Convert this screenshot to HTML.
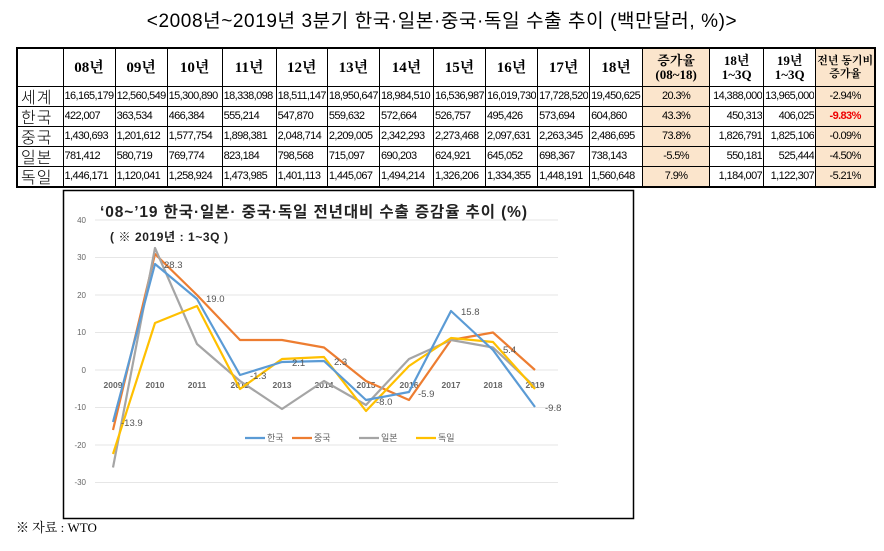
<!DOCTYPE html>
<html><head><meta charset="utf-8"><style>
body{margin:0;width:884px;height:551px;background:#fff;position:relative;overflow:hidden;font-family:"Liberation Serif","Noto Serif CJK SC",serif;}
.title{position:absolute;top:10px;left:0;width:884px;text-align:center;font-size:19px;line-height:24px;font-family:"Liberation Sans","Noto Sans CJK KR",sans-serif;letter-spacing:0.6px}
table{position:absolute;left:16px;top:47px;border-collapse:collapse;table-layout:fixed;border:2px solid #000}
td{border:1px solid #000;padding:0 1px;font-size:11px;height:19px;line-height:16px;white-space:nowrap;overflow:hidden;font-family:"Liberation Sans Narrow","Liberation Sans",sans-serif;letter-spacing:-0.6px}
td div{height:19px;line-height:19px;overflow:hidden}
tr.h td{height:37px;font-size:15px;font-weight:bold;text-align:center;font-family:"Liberation Serif","Noto Serif CJK KR",serif;letter-spacing:0;line-height:16px}
td.n{font-size:16px;font-family:"Noto Sans CJK KR",sans-serif;letter-spacing:1px;padding-left:3px;font-weight:300}
td.o{background:#fbe5cc;text-align:center}
td.r{text-align:right}
tr.h td.o,tr.h td.s{font-size:13px;line-height:14px}
</style></head><body>
<div class="title">&lt;2008년~2019년 3분기 한국·일본·중국·독일 수출 추이 (백만달러, %)&gt;</div>
<table>
<colgroup><col style="width:46px"><col style="width:52px"><col style="width:49px"><col style="width:55px"><col style="width:54px"><col style="width:49px"><col style="width:52px"><col style="width:54px"><col style="width:52px"><col style="width:50px"><col style="width:49px"><col style="width:53px"><col style="width:67px"><col style="width:54px"><col style="width:50px"><col style="width:58px"></colgroup>
<tr class="h"><td></td><td>08년</td><td>09년</td><td>10년</td><td>11년</td><td>12년</td><td>13년</td><td>14년</td><td>15년</td><td>16년</td><td>17년</td><td>18년</td><td class="o">증가율<br>(08~18)</td><td class="s">18년<br>1~3Q</td><td class="s">19년<br>1~3Q</td><td class="o" style="font-size:11px;line-height:13px">전년 동기비<br>증가율</td></tr>
<tr><td class="n"><div>세계</div></td><td><div>16,165,179</div></td><td><div>12,560,549</div></td><td><div>15,300,890</div></td><td><div>18,338,098</div></td><td><div>18,511,147</div></td><td><div>18,950,647</div></td><td><div>18,984,510</div></td><td><div>16,536,987</div></td><td><div>16,019,730</div></td><td><div>17,728,520</div></td><td><div>19,450,625</div></td><td class="o"><div>20.3%</div></td><td class="r"><div>14,388,000</div></td><td class="r"><div>13,965,000</div></td><td class="o"><div>-2.94%</div></td></tr>
<tr><td class="n"><div>한국</div></td><td><div>422,007</div></td><td><div>363,534</div></td><td><div>466,384</div></td><td><div>555,214</div></td><td><div>547,870</div></td><td><div>559,632</div></td><td><div>572,664</div></td><td><div>526,757</div></td><td><div>495,426</div></td><td><div>573,694</div></td><td><div>604,860</div></td><td class="o"><div>43.3%</div></td><td class="r"><div>450,313</div></td><td class="r"><div>406,025</div></td><td class="o" style="color:#e00;font-weight:bold"><div>-9.83%</div></td></tr>
<tr><td class="n"><div>중국</div></td><td><div>1,430,693</div></td><td><div>1,201,612</div></td><td><div>1,577,754</div></td><td><div>1,898,381</div></td><td><div>2,048,714</div></td><td><div>2,209,005</div></td><td><div>2,342,293</div></td><td><div>2,273,468</div></td><td><div>2,097,631</div></td><td><div>2,263,345</div></td><td><div>2,486,695</div></td><td class="o"><div>73.8%</div></td><td class="r"><div>1,826,791</div></td><td class="r"><div>1,825,106</div></td><td class="o"><div>-0.09%</div></td></tr>
<tr><td class="n"><div>일본</div></td><td><div>781,412</div></td><td><div>580,719</div></td><td><div>769,774</div></td><td><div>823,184</div></td><td><div>798,568</div></td><td><div>715,097</div></td><td><div>690,203</div></td><td><div>624,921</div></td><td><div>645,052</div></td><td><div>698,367</div></td><td><div>738,143</div></td><td class="o"><div>-5.5%</div></td><td class="r"><div>550,181</div></td><td class="r"><div>525,444</div></td><td class="o"><div>-4.50%</div></td></tr>
<tr><td class="n"><div>독일</div></td><td><div>1,446,171</div></td><td><div>1,120,041</div></td><td><div>1,258,924</div></td><td><div>1,473,985</div></td><td><div>1,401,113</div></td><td><div>1,445,067</div></td><td><div>1,494,214</div></td><td><div>1,326,206</div></td><td><div>1,334,355</div></td><td><div>1,448,191</div></td><td><div>1,560,648</div></td><td class="o"><div>7.9%</div></td><td class="r"><div>1,184,007</div></td><td class="r"><div>1,122,307</div></td><td class="o"><div>-5.21%</div></td></tr>
</table>
<svg style="position:absolute;left:0;top:0" width="884" height="551" font-family="Liberation Sans, Noto Sans CJK KR, sans-serif">
<rect x="63.5" y="190.5" width="570" height="328" fill="none" stroke="#000" stroke-width="1.5"/>
<g stroke="#e6e6e6" stroke-width="1">
<line x1="95" x2="558" y1="220" y2="220"/><line x1="95" x2="558" y1="257.5" y2="257.5"/><line x1="95" x2="558" y1="295" y2="295"/><line x1="95" x2="558" y1="332.5" y2="332.5"/><line x1="95" x2="558" y1="370" y2="370"/><line x1="95" x2="558" y1="407.5" y2="407.5"/><line x1="95" x2="558" y1="445" y2="445"/><line x1="95" x2="558" y1="482.5" y2="482.5"/>
</g>
<g font-size="8" fill="#666" text-anchor="end">
<text x="86" y="223">40</text><text x="86" y="260">30</text><text x="86" y="298">20</text><text x="86" y="335">10</text><text x="86" y="373">0</text><text x="86" y="410">-10</text><text x="86" y="448">-20</text><text x="86" y="485">-30</text>
</g>
<g font-size="8.5" fill="#666" font-weight="bold" text-anchor="middle">
<text x="113" y="388">2009</text><text x="155" y="388">2010</text><text x="197" y="388">2011</text><text x="240" y="388">2012</text><text x="282" y="388">2013</text><text x="324" y="388">2014</text><text x="366" y="388">2015</text><text x="409" y="388">2016</text><text x="451" y="388">2017</text><text x="493" y="388">2018</text><text x="535" y="388">2019</text>
</g>
<text x="100" y="217" font-size="15.5" font-weight="bold" fill="#222" textLength="427">‘08~’19  한국·일본· 중국·독일 전년대비 수출 증감율 추이 (%)</text>
<text x="110" y="241" font-size="12" font-weight="bold" fill="#222" textLength="118">( ※ 2019년 : 1~3Q )</text>
<g fill="none" stroke-width="2.2" stroke-linejoin="round">
<polyline stroke="#ed7d31" points="113,430 155,254 197,295 240,340 282,340 324,347.5 366,381 409,400 451,340 493,332.5 535,370"/>
<polyline stroke="#a5a5a5" points="113,467.5 155,248 197,344 240,381 282,409 324,381 366,405 409,359 451,340 493,347.5 535,387"/>
<polyline stroke="#ffc000" points="113,454 155,323 197,306 240,389 282,359 324,357 366,411 409,366 451,338 493,342 535,389"/>
<polyline stroke="#5b9bd5" points="113,422 155,264 197,299 240,375 282,362 324,361 366,400 409,392 451,311 493,350 535,407"/>
</g>
<g font-size="9.5" fill="#555">
<text x="164" y="268">28.3</text><text x="206" y="302">19.0</text><text x="250" y="379">-1.3</text><text x="292" y="366">2.1</text><text x="334" y="365">2.3</text><text x="376" y="405">-8.0</text><text x="418" y="397">-5.9</text><text x="461" y="315">15.8</text><text x="503" y="353">5.4</text><text x="545" y="411">-9.8</text><text x="121" y="426">-13.9</text>
</g>
<g font-size="9" fill="#666">
<line x1="245" x2="265" y1="438" y2="438" stroke="#5b9bd5" stroke-width="2.2"/><text x="267" y="441">한국</text>
<line x1="292" x2="312" y1="438" y2="438" stroke="#ed7d31" stroke-width="2.2"/><text x="314" y="441">중국</text>
<line x1="359" x2="379" y1="438" y2="438" stroke="#a5a5a5" stroke-width="2.2"/><text x="381" y="441">일본</text>
<line x1="416" x2="436" y1="438" y2="438" stroke="#ffc000" stroke-width="2.2"/><text x="438" y="441">독일</text>
</g>
<text x="16" y="532" font-size="13" font-family="Liberation Serif, Noto Serif CJK KR, serif" fill="#000">※ 자료 : WTO</text>
</svg>
</body></html>
